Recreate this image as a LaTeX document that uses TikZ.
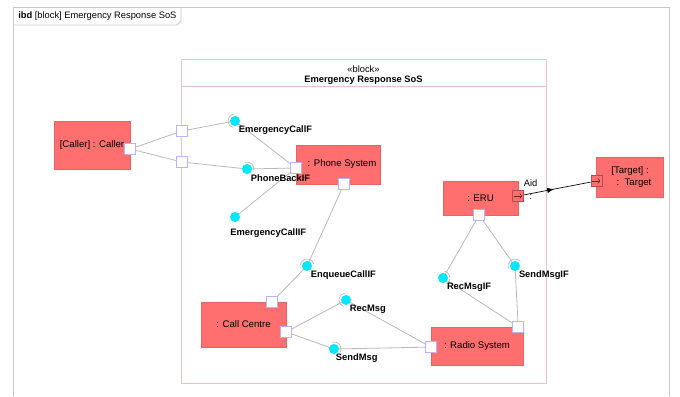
\documentclass[tikz,border=0pt]{standalone}
\usepackage{fontspec}
\setmainfont{Liberation Sans}
\usepackage{tikz}
\usetikzlibrary{positioning,arrows,arrows.meta,decorations.markings}
\pgfdeclarelayer{l1}
\pgfsetlayers{l1,main}
\definecolor{partred}{HTML}{FF6F6F}
\definecolor{ballcyan}{HTML}{00E8FF}
\definecolor{portblue}{HTML}{B4B4FF}
\definecolor{wiregray}{HTML}{B8B8B8}
\definecolor{blockpink}{HTML}{E2C6C6}
\definecolor{framegray}{HTML}{C8C8C8}
\tikzstyle{part} = [rectangle, draw=partred!90!black, line width=0.3pt, fill=partred, text centered, font=\fontsize{7.2}{9}\selectfont, inner sep=0pt]
\tikzstyle{port} = [rectangle, draw=portblue, fill=white, minimum size=8.25pt, inner sep=0pt, line width=0.6pt]
\tikzstyle{flowport} = [rectangle, draw=partred!70!black, fill=partred, minimum size=8.25pt, inner sep=0pt, line width=0.4pt]
\tikzstyle{ball} = [circle, fill=ballcyan, minimum size=7.5pt, inner sep=0pt]
\tikzstyle{socket} = [draw=wiregray, line width=0.5pt]
\tikzstyle{line} = [draw=wiregray, line width=0.6pt]
\tikzstyle{lbl} = [font=\bfseries\fontsize{7}{8}\selectfont, inner sep=0pt]
\tikzstyle{txt} = [font=\fontsize{7}{8}\selectfont, inner sep=0pt]
\newcommand{\socketarc}[3]{\draw[socket] ([shift={(#2:5.25pt)}]#1.center) arc[start angle=#2, end angle=#3, radius=5.25pt];}

\begin{document}
\begin{tikzpicture}[x=0.75pt, y=-0.75pt]
\useasboundingbox (0,0) rectangle (680,396);
% Diagram frame
    \draw[framegray, line width=0.7pt] (13,396) -- (13,7) -- (669,7) -- (669,396);
    \draw[framegray, line width=0.6pt] (13,25) -- (177,25) -- (181,21) -- (181,7);
    \node[txt, anchor=west] (title) at (18,16) {\textbf{ibd} [block] Emergency Response SoS};
% Emergency Response SoS block
    \node[draw=blockpink, line width=0.7pt, minimum width=273.75pt, minimum height=243pt, inner sep=0pt] (sos) at (363.5,221) {};
    \draw[blockpink, line width=0.7pt] ([yshift=-21pt]sos.north west) -- ([yshift=-21pt]sos.north east);
    \node[txt, below=5pt of sos.north] (stereo) {«block»};
    \node[lbl, below=2.5pt of stereo] (sosname) {Emergency Response SoS};
% Parts
    \node[part, minimum width=57pt, minimum height=36pt] (caller) at (92,145) {[Caller] : Caller};
    \node[part, minimum width=63pt, minimum height=29.25pt] (phone) at (338,164.5) {\hspace*{6pt}: Phone System};
    \node[part, minimum width=63.75pt, minimum height=33.75pt] (callcentre) at (243.5,324.5) {: Call Centre};
    \node[part, minimum width=69pt, minimum height=28.5pt] (radio) at (477,346) {: Radio System};
    \node[part, minimum width=56.25pt, minimum height=25.5pt] (eru) at (480.5,198) {: ERU};
    \node[part, minimum width=50.25pt, minimum height=30pt, align=center] (target) at (630,177) {[Target] :\\\hspace*{6pt}:\ \ Target};
% Ports
    \node[port] (callerp) at ([yshift=-3pt]caller.east) {};
    \node[port] (bnd1) at (182,131) {};
    \node[port] (bnd2) at (182,162) {};
    \node[port] (phonel) at ([yshift=-2.6pt]phone.west) {};
    \node[port] (phoneb) at ([xshift=4.5pt]phone.south) {};
    \node[port] (cctop) at ([xshift=21.4pt]callcentre.north) {};
    \node[port] (ccright) at ([yshift=-5.6pt]callcentre.east) {};
    \node[port] (radiol) at ([yshift=-0.8pt]radio.west) {};
    \node[port] (radiot) at ([xshift=-3.75pt]radio.north east) {};
    \node[port] (erub) at ([xshift=-1pt]eru.south) {};
    \node[flowport] (eruout) at ([yshift=1.5pt]eru.east) {};
    \node[flowport] (targetin) at ([yshift=-3pt]target.west) {};
    \draw[-{To[length=2pt,width=4pt]}, partred!40!black, line width=0.45pt] ([xshift=-3pt]eruout.center) -- ([xshift=3pt]eruout.center);
    \draw[-{To[length=2pt,width=4pt]}, partred!40!black, line width=0.45pt] ([xshift=-3pt]targetin.center) -- ([xshift=3pt]targetin.center);
% Interfaces
    \node[ball] (ecf) at (235,121) {};
    \node[ball] (pbif) at (247,169) {};
    \node[ball] (ecif) at (235,217) {};
    \node[ball] (enq) at (307,266) {};
    \node[ball] (recmsg) at (346,300) {};
    \node[ball] (sendmsg) at (334,349) {};
    \node[ball] (recmsgif) at (443,278) {};
    \node[ball] (sendmsgif) at (515,266) {};
    \socketarc{ecf}{95}{250}
    \socketarc{pbif}{-20}{110}
    \socketarc{enq}{15}{170}
    \socketarc{recmsg}{95}{250}
    \socketarc{sendmsg}{-30}{110}
    \socketarc{recmsgif}{-60}{80}
    \socketarc{sendmsgif}{40}{200}
    \node[lbl, below right=0.5pt and 0pt of ecf] {EmergencyCallF};
    \node[lbl, below right=1pt and 0pt of pbif] {PhoneBackIF};
    \node[lbl, below right=5.5pt and -6.4pt of ecif] {EmergencyCallIF};
    \node[lbl, below right=0.5pt and 0pt of enq] {EnqueueCallIF};
    \node[lbl, below right=1pt and 0pt of recmsg] {RecMsg};
    \node[lbl, below right=0.5pt and -1.5pt of sendmsg] {SendMsg};
    \node[lbl, below right=0.5pt and 0pt of recmsgif] {RecMsgIF};
    \node[lbl, below right=0.5pt and 0pt of sendmsgif] {SendMsgIF};
% Flow labels
    \node[txt, right=4pt of eruout, yshift=-1pt] (erucolon) {:};
    \node[txt, above right=7pt and 4pt of eruout.center] (aid) {Aid};
% Connectors
\begin{pgfonlayer}{l1}
    \path [line] (callerp) -- (bnd1);
    \path [line] (callerp) -- (bnd2);
    \path [line] (bnd1) -- (ecf.center);
    \path [line] (bnd2) -- (pbif.center);
    \path [line] (ecf.center) -- (phonel);
    \path [line] (pbif.center) -- (phonel);
    \path [line] (ecif.center) -- (phonel);
    \path [line] (phoneb) -- (enq.center);
    \path [line] (enq.center) -- (cctop);
    \path [line] (ccright) -- (recmsg.center);
    \path [line] (ccright) -- (sendmsg.center);
    \path [line] (recmsg.center) -- (radiol);
    \path [line] (sendmsg.center) -- (radiol);
    \path [line] (erub) -- (recmsgif.center);
    \path [line] (erub) -- (sendmsgif.center);
    \path [line] (recmsgif.center) -- (radiot);
    \path [line] (sendmsgif.center) -- (radiot);
\end{pgfonlayer}
    \path [draw, black, line width=0.5pt, postaction={decorate}, decoration={markings, mark=at position 0.45 with {\arrow{Latex[length=5pt,width=4pt]}}}] (eruout) -- (targetin);
\end{tikzpicture}
\end{document}
